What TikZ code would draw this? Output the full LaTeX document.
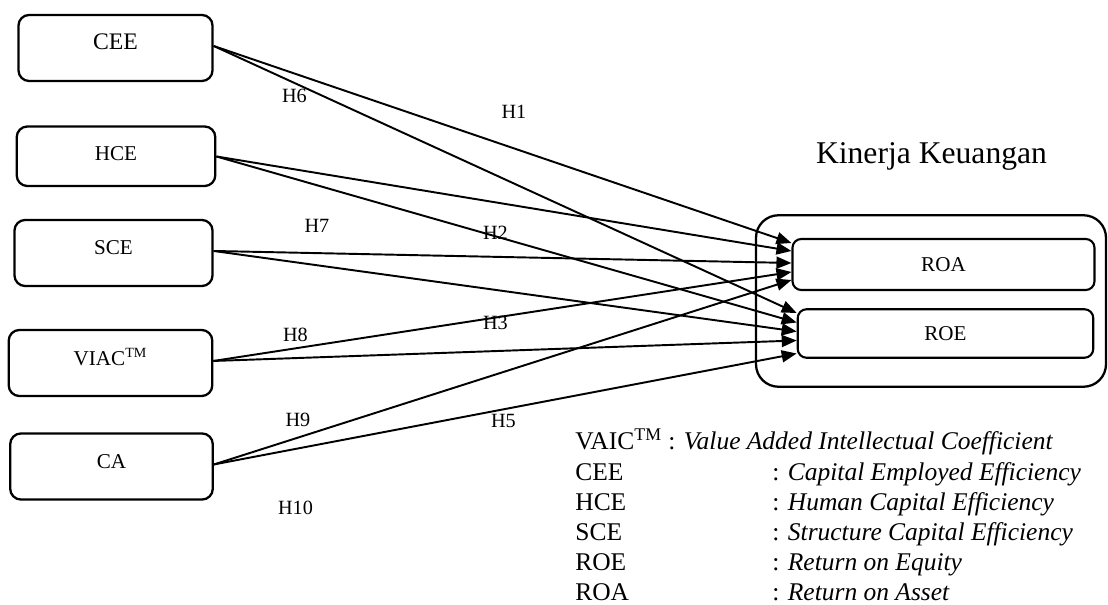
\documentclass[tikz,border=0pt]{standalone}
\usepackage{fontspec}
\setmainfont{Liberation Serif}
\usetikzlibrary{arrows.meta}

\begin{document}
\begin{tikzpicture}[
    varbox/.style={draw,line width=1.3pt,rounded corners=6pt,inner sep=0pt,anchor=base,
      text height=0.7cm,text depth=0.62cm,font=\fontsize{12}{14}\selectfont},
    ratiobox/.style={draw,line width=1.2pt,rounded corners=5pt,inner sep=0pt,font=\fontsize{12}{14}\selectfont},
    hyp/.style={font=\fontsize{11.5}{13}\selectfont},
    link/.style={line width=1.1pt,-{Triangle[length=0.3cm,width=0.24cm]}},
    legend/.style={anchor=base west,inner sep=0pt,font=\fontsize{14.5}{17}\selectfont}
  ]
  \useasboundingbox (0,0) rectangle (22.16,-12.1);
  %% independent variables
  \node[varbox,minimum width=3.88cm,font=\fontsize{13.5}{15}\selectfont] (cee) at (2.31,-1.00) {CEE};
  \node[varbox,minimum width=3.97cm,text height=0.68cm,text depth=0.51cm] (hce) at (2.32,-3.21) {HCE};
  \node[varbox,minimum width=3.96cm] (sce) at (2.27,-5.10) {SCE};
  \node[varbox,minimum width=4.07cm] (viac) at (2.21,-7.30) {VIAC\textsuperscript{TM}};
  \node[varbox,minimum width=4.05cm] (ca) at (2.23,-9.37) {CA};
  %% financial performance
  \node[draw,line width=1.3pt,rounded corners=0.45cm,minimum width=7.0cm,minimum height=3.43cm] (perf) at (18.62,-6.02) {};
  \node[anchor=base,font=\fontsize{18}{21}\selectfont] (kinerja) at (18.63,-3.27) {Kinerja Keuangan};
  \node[ratiobox,minimum width=6.04cm,minimum height=1.02cm] (roa) at (18.87,-5.29) {ROA};
  \node[ratiobox,minimum width=5.91cm,minimum height=0.97cm] (roe) at (18.91,-6.67) {ROE};
  %% paths to ROA
  \draw[link] (cee.mid east) -- ([yshift=0.43cm]roa.west);
  \draw[link] (hce.mid east) -- ([yshift=0.27cm]roa.west);
  \draw[link] (sce.mid east) -- ([yshift=0.03cm]roa.west);
  \draw[link] (viac.mid east) -- ([yshift=-0.15cm]roa.west);
  \draw[link] (ca.mid east) -- ([yshift=-0.31cm]roa.west);
  %% paths to ROE
  \draw[link] (cee.mid east) -- ([yshift=0.41cm]roe.west);
  \draw[link] (hce.mid east) -- ([yshift=0.22cm]roe.west);
  \draw[link] (sce.mid east) -- ([yshift=0.04cm]roe.west);
  \draw[link] (viac.mid east) -- ([yshift=-0.14cm]roe.west);
  \draw[link] (ca.mid east) -- ([yshift=-0.40cm]roe.west);
  %% hypotheses
  \node[hyp] (h6) at (5.89,-1.92) {H6};
  \node[hyp] (h1) at (10.28,-2.23) {H1};
  \node[hyp] (h7) at (6.34,-4.51) {H7};
  \node[hyp] (h2) at (9.91,-4.65) {H2};
  \node[hyp] (h8) at (5.91,-6.69) {H8};
  \node[hyp] (h3) at (9.91,-6.46) {H3};
  \node[hyp] (h9) at (5.96,-8.40) {H9};
  \node[hyp] (h5) at (10.07,-8.41) {H5};
  \node[hyp] (h10) at (5.91,-10.15) {H10};
  %% legend
  \node[legend] (lgvaic) at (11.50,-9.00) {VAIC\textsuperscript{TM} : \textit{Value Added Intellectual Coefficient}};
  \node[legend] (lgcee) at (11.50,-9.60) {CEE};
  \node[legend] (lgceetx) at (15.44,-9.60) {: \textit{Capital Employed Efficiency}};
  \node[legend] (lghce) at (11.50,-10.21) {HCE};
  \node[legend] (lghcetx) at (15.44,-10.21) {: \textit{Human Capital Efficiency}};
  \node[legend] (lgsce) at (11.50,-10.81) {SCE};
  \node[legend] (lgscetx) at (15.44,-10.81) {: \textit{Structure Capital Efficiency}};
  \node[legend] (lgroe) at (11.50,-11.40) {ROE};
  \node[legend] (lgroetx) at (15.44,-11.40) {: \textit{Return on Equity}};
  \node[legend] (lgroa) at (11.50,-12.00) {ROA};
  \node[legend] (lgroatx) at (15.44,-12.00) {: \textit{Return on Asset}};
\end{tikzpicture}
\end{document}
